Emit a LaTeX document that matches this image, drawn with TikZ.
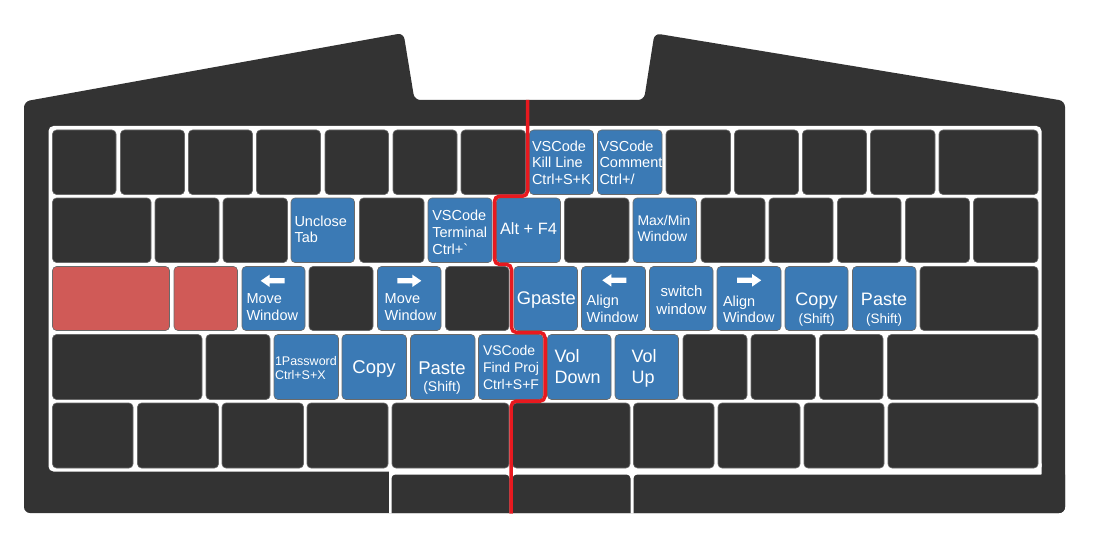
\documentclass[tikz,border=0pt]{standalone}
\usepackage{fontspec}
\setmainfont{Liberation Sans}
\definecolor{kdark}{HTML}{333333}
\definecolor{kblue}{HTML}{3B7AB5}
\definecolor{kred}{HTML}{D05A57}
\definecolor{kedge}{HTML}{6A6A6A}
\definecolor{kline}{HTML}{E8191F}
\newcommand{\kfs}[2]{\fontsize{#1}{#2}\selectfont}
\newcommand{\kbbody}{(24,300) -- (24,101.5) -- (403.5,33) -- (414.5,100) -- (644,100) -- (654.5,33.3) -- (1065,101) -- (1065,513) -- (24,513) -- cycle}
\tikzset{
  kd/.style={draw=kedge, line width=0.6pt, rounded corners=4pt},
  kbot/.style={fill=kdark, rounded corners=4pt},
  lbl/.style={text=white, inner sep=0pt, outer sep=0pt},
  ml/.style={lbl, anchor=west, align=left},
  redline/.style={draw=kline, line width=3.5pt, rounded corners=5pt},
  larr/.pic={\fill[white] (-12,0) -- (-3,-6.2) -- (-3,-2.6) -- (12,-2.6) -- (12,2.6) -- (-3,2.6) -- (-3,6.2) -- cycle;},
  rarr/.pic={\fill[white] (12,0) -- (3,-6.2) -- (3,-2.6) -- (-12,-2.6) -- (-12,2.6) -- (3,2.6) -- (3,6.2) -- cycle;}
}
\begin{document}
\begin{tikzpicture}[x=1pt,y=-1pt]
\useasboundingbox (0,0) rectangle (1103,559);
\fill[kdark, rounded corners=6pt] \kbbody;
\begin{scope}
\clip[rounded corners=6pt] \kbbody;
\fill[white, rounded corners=5pt] (48.5,126) rectangle (1041.5,471.5);
\fill[white] (388.5,460) rectangle (640,600);
\fill[white, rounded corners=4pt] (600,460) rectangle (1041.5,478);
% row 1
\foreach \a/\b/\c in {52.5/116/kdark,120.5/184.5/kdark,188.5/252.5/kdark,256.5/320.5/kdark,325/388.5/kdark,393/457/kdark,461/525.5/kdark,529.5/593.5/kblue,597.5/662/kblue,666/730.5/kdark,734.5/798.5/kdark,802.5/866.5/kdark,870.5/935/kdark,939/1038/kdark}
  \draw[kd, fill=\c] (\a,130) rectangle (\b,194.5);
% row 2
\foreach \a/\b/\c in {52.5/151/kdark,155/219/kdark,223/287.5/kdark,291/354.5/kblue,359.5/424/kdark,428/492/kblue,496.5/560.5/kblue,564.5/629/kdark,633/696.5/kblue,701/765/kdark,769/833/kdark,837.5/901/kdark,905.5/969.5/kdark,973.5/1038/kdark}
  \draw[kd, fill=\c] (\a,198) rectangle (\b,262.5);
% row 3
\foreach \a/\b/\c in {52.5/169.5/kred,174/237.5/kred,242/305/kblue,309/373/kdark,377.5/441/kblue,445.5/509/kdark,514/577.5/kblue,581.5/645.5/kblue,649.5/713/kblue,717/781/kblue,785/848/kblue,852.5/916/kblue,920/1038/kdark}
  \draw[kd, fill=\c] (\a,266.5) rectangle (\b,330.5);
% row 4
\foreach \a/\b/\c in {52.5/202/kdark,206/270/kdark,274/338.5/kblue,342/406.5/kblue,410.5/475/kblue,478.5/543/kblue,547.5/611/kblue,615/678.5/kblue,683/747/kdark,751/815.5/kdark,819.5/883/kdark,887.5/1038/kdark}
  \draw[kd, fill=\c] (\a,334.5) rectangle (\b,399.5);
% row 5
\foreach \a/\b/\c in {52.5/133/kdark,137.5/218.5/kdark,222/303.5/kdark,307/388/kdark,392/509/kdark,512.5/630/kdark,633.5/714/kdark,718/800/kdark,804/884/kdark,888/1038/kdark}
  \draw[kd, fill=\c] (\a,403) rectangle (\b,468);
% bottom row
\foreach \a/\b in {391.5/509.5,512.5/630.5,633.5/1100}
  \fill[kbot] (\a,474.5) rectangle (\b,600);
\end{scope}
% red divider
\draw[redline] (527.5,100) -- (527.5,196.2) -- (494.5,196.2) -- (494.5,264.4) -- (511.5,264.4) -- (511.5,332.5) -- (545,332.5) -- (545,401.2) -- (511.2,401.2) -- (511.2,513.5);
% arrows
\pic at (272.7,280.8) {larr};
\pic at (409.3,280.8) {rarr};
\pic at (614.3,280.3) {larr};
\pic at (749.2,280.3) {rarr};
% labels
\node[ml, font=\kfs{14.5}{16.3}] (kill) at (532,162.7) {VSCode\\Kill Line\\Ctrl+S+K};
\node[ml, font=\kfs{14.5}{16.3}] (comment) at (599.5,162.7) {VSCode\\Comment\\Ctrl+/};
\node[ml, font=\kfs{14.5}{16.7}] (unclose) at (294.5,229.2) {Unclose\\Tab};
\node[ml, font=\kfs{14.5}{16.8}] (term) at (432.3,232.2) {VSCode\\Terminal\\Ctrl+\textasciigrave};
\node[lbl, font=\kfs{16.4}{18}] (altf4) at (528.5,229) {Alt + F4};
\node[ml, font=\kfs{14}{16.8}] (maxmin) at (637.5,228.5) {Max/Min\\Window};
\node[ml, font=\kfs{14.5}{16.8}] (movel) at (246.5,307.3) {Move\\Window};
\node[ml, font=\kfs{14.5}{16.8}] (mover) at (384.7,307.3) {Move\\Window};
\node[lbl, anchor=base west, font=\kfs{18.3}{20}] (gpaste) at (516.8,304.8) {Gpaste};
\node[ml, font=\kfs{14.5}{16.7}] (alignl) at (586.7,308.8) {Align\\Window};
\node[lbl, align=center, font=\kfs{15}{18.3}] (switch) at (681.5,300.3) {switch\\window};
\node[ml, font=\kfs{14.5}{16.7}] (alignr) at (723,309.3) {Align\\Window};
\node[lbl, anchor=base, font=\kfs{18}{20}] (copya) at (816.5,305) {Copy};
\node[lbl, anchor=base, font=\kfs{13.5}{15}] (copyas) at (816.5,323) {(Shift)};
\node[lbl, anchor=base, font=\kfs{18}{20}] (pastea) at (884,305) {Paste};
\node[lbl, anchor=base, font=\kfs{13.5}{15}] (pasteas) at (884,323) {(Shift)};
\node[ml, font=\kfs{12.5}{13.3}] (onepw) at (275,368) {1Password\\Ctrl+S+X};
\node[lbl, anchor=base, font=\kfs{18.5}{20}] (copyb) at (374,373) {Copy};
\node[lbl, anchor=base, font=\kfs{18.5}{20}] (pasteb) at (442,374) {Paste};
\node[lbl, anchor=base, font=\kfs{14}{15}] (pastebs) at (442,391) {(Shift)};
\node[ml, font=\kfs{14}{17}] (findp) at (483,367) {VSCode\\Find Proj\\Ctrl+S+F};
\node[ml, font=\kfs{18}{21}] (voldown) at (554.5,366.3) {Vol\\Down};
\node[ml, font=\kfs{18}{21}] (volup) at (631.7,368.2) {Vol\\Up};
\end{tikzpicture}
\end{document}
